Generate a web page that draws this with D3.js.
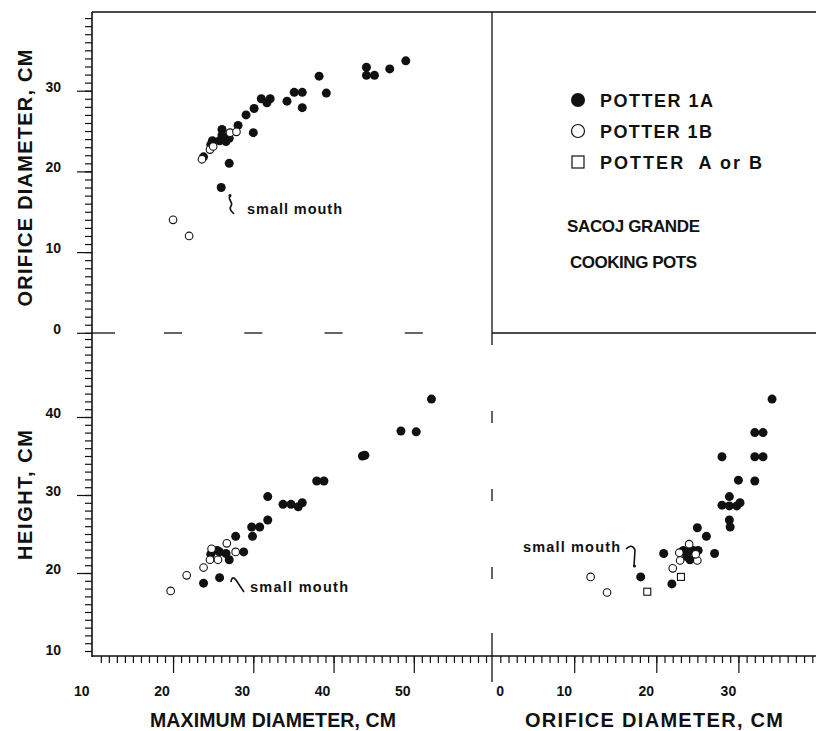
<!DOCTYPE html>
<html><head><meta charset="utf-8">
<script src="https://cdn.jsdelivr.net/npm/d3@7/dist/d3.min.js"></script>
<style>
html,body{margin:0;padding:0;background:#fff;}
svg{display:block;}
text{font-family:"Liberation Sans",Arial,Helvetica,sans-serif;font-weight:bold;fill:#111;}
</style></head>
<body>
<svg id="chart" width="816" height="731"></svg>
<script>
// ---- DATA ----
// Top-left: maximum diameter (x) vs orifice diameter (y)
const topPotter1A = [[49.0,33.7],[47.0,32.7],[44.1,32.9],[44.1,31.9],[45.1,31.9],[38.2,31.8],[39.1,29.7],[35.1,29.8],[36.1,29.8],[36.1,27.9],[34.2,28.7],[31.0,29.0],[32.1,29.0],[31.7,28.5],[30.1,27.8],[29.1,27.0],[28.1,25.7],[30.0,24.8],[26.1,25.2],[26.1,24.5],[24.9,23.8],[25.8,23.8],[26.6,23.7],[27.0,24.1],[24.7,23.3],[23.8,21.8],[27.0,21.0],[26.0,18.0]];
const topPotter1B = [[23.6,21.5],[24.6,22.7],[25.0,23.1],[27.1,24.8],[27.9,24.9],[20.0,14.0],[22.0,12.0]];
// Bottom-left: maximum diameter (x) vs height (y)
const leftPotter1A = [[52.2,42.3],[48.4,38.2],[50.3,38.1],[43.6,35.0],[43.9,35.1],[37.9,31.8],[38.8,31.8],[31.8,29.8],[33.7,28.8],[34.7,28.8],[35.6,28.5],[36.1,29.0],[31.8,26.8],[29.8,25.9],[30.8,25.9],[29.9,24.7],[27.8,24.7],[28.8,22.7],[24.7,22.4],[25.8,22.7],[26.6,22.5],[27.0,21.7],[25.5,22.9],[23.8,18.7],[25.8,19.4]];
const leftPotter1B = [[26.7,23.8],[24.8,23.1],[24.6,21.7],[25.6,21.7],[27.8,22.7],[23.8,20.7],[21.7,19.7],[19.7,17.7]];
// Bottom-right: orifice diameter (x) vs height (y)
const rightPotter1A = [[34.1,42.3],[32.0,38.0],[33.0,38.0],[32.0,34.9],[33.0,34.9],[28.0,34.9],[30.0,31.9],[32.0,31.8],[28.9,29.8],[28.0,28.7],[28.9,28.6],[29.8,28.6],[30.2,29.0],[28.9,26.8],[29.0,25.9],[25.0,25.8],[26.1,24.7],[27.1,22.5],[20.9,22.5],[18.1,19.5],[21.9,18.6],[23.9,22.7],[23.3,22.9],[24.5,22.9],[24.1,21.7],[25.1,22.9],[23.7,22.1]];
const rightPotter1B = [[24.0,23.7],[22.8,22.6],[22.9,21.6],[25.0,21.6],[24.8,22.4],[22.0,20.6],[12.0,19.5],[14.0,17.5]];
const rightPotterAorB = [[23.0,19.5],[18.9,17.6]];

const maxDiamLabels = [10,20,30,40,50];
const orificeXLabels = [0,10,20,30];
const orificeYLabels = [0,10,20,30];
const heightLabels = [10,20,30,40];
const legendLabels = ["POTTER 1A","POTTER 1B","POTTER\u00A0 A or B"];
const titleLines = ["SACOJ GRANDE","COOKING POTS"];

// ---- SCALES ----
const xMax = d3.scaleLinear().domain([10,50]).range([92.8,413.8]);
const xOrif = d3.scaleLinear().domain([0,30]).range([492.1,738.4]);
const yOrif = d3.scaleLinear().domain([0,30]).range([332.8,90.7]);
const yHeight = d3.scaleLinear().domain([10,40]).range([651,417]);

const svg = d3.select("#chart");
const ink = "#111";
const g = svg.append("g");

// frame lines
const line = (x1,y1,x2,y2,w) => g.append("line").attr("x1",x1).attr("y1",y1).attr("x2",x2).attr("y2",y2)
  .attr("stroke",ink).attr("stroke-width",w||1.4);
line(92,12,816,12,1.3);        // top border
line(92,12,92,657,1.6);        // left axis
line(92,656,816,656,1.6);      // bottom axis
line(492,12,492,345,1.3);      // vertical divider top
line(492,333,816,333,1.3);     // horizontal divider right
line(492,633,492,682,1.3);     // 0 divider at bottom
// dashed divider segments
line(92,333,115,333,1.3);
[20,30,40,50].forEach(v => line(xMax(v)-9,333,xMax(v)+9,333,1.3));
[20,30,40].forEach(v => line(492,yHeight(v)-6,492,yHeight(v)+6,1.3));

// ---- AXES ----
function styleAxis(sel){
  sel.select(".domain").remove();
  sel.selectAll(".tick line").attr("stroke",ink).attr("stroke-width",1.2);
  sel.selectAll(".tick text").remove();
}
g.append("g").attr("transform","translate(92,0)")
  .call(d3.axisLeft(yOrif).tickValues(d3.range(0,40)).tickSize(7).tickFormat(""))
  .call(styleAxis);
g.append("g").attr("transform","translate(92,0)")
  .call(d3.axisLeft(yOrif).tickValues(orificeYLabels).tickSize(15).tickFormat(""))
  .call(styleAxis);
g.append("g").attr("transform","translate(92,0)")
  .call(d3.axisLeft(yHeight).tickValues(d3.range(10,51)).tickSize(7).tickFormat(""))
  .call(styleAxis);
g.append("g").attr("transform","translate(92,0)")
  .call(d3.axisLeft(yHeight).tickValues([20,30,40]).tickSize(15).tickFormat(""))
  .call(styleAxis);
g.append("g").attr("transform","translate(0,656)")
  .call(d3.axisBottom(xMax).tickValues(d3.range(11,60)).tickSize(7).tickFormat(""))
  .call(styleAxis);
g.append("g").attr("transform","translate(0,656)")
  .call(d3.axisBottom(xMax).tickValues([20,30,40,50]).tickSize(17).tickFormat(""))
  .call(styleAxis);
g.append("g").attr("transform","translate(0,656)")
  .call(d3.axisBottom(xOrif).tickValues(d3.range(1,40)).tickSize(7).tickFormat(""))
  .call(styleAxis);
g.append("g").attr("transform","translate(0,656)")
  .call(d3.axisBottom(xOrif).tickValues([10,20,30]).tickSize(17).tickFormat(""))
  .call(styleAxis);

// tick labels
const tl = g.append("g").attr("font-size",14);
orificeYLabels.forEach(v => tl.append("text").attr("x",61).attr("y",yOrif(v)+1)
  .attr("text-anchor","end").text(v));
heightLabels.forEach(v => tl.append("text").attr("x",61).attr("y",yHeight(v)+(v===10?4:1))
  .attr("text-anchor","end").text(v));
maxDiamLabels.forEach(v => tl.append("text").attr("x",xMax(v)-11).attr("y",696)
  .attr("text-anchor","middle").text(v));
orificeXLabels.forEach(v => tl.append("text").attr("x",xOrif(v)+(v===0?8:-10)).attr("y",696)
  .attr("text-anchor","middle").text(v));

// axis titles
g.append("text").attr("transform","translate(32,178) rotate(-90)").attr("text-anchor","middle")
  .attr("font-size",20).attr("textLength",257).attr("lengthAdjust","spacing").text("ORIFICE DIAMETER, CM");
g.append("text").attr("transform","translate(32,495) rotate(-90)").attr("text-anchor","middle")
  .attr("font-size",20).attr("textLength",130).attr("lengthAdjust","spacing").text("HEIGHT, CM");
g.append("text").attr("x",150).attr("y",727)
  .attr("font-size",19.5).attr("textLength",246).attr("lengthAdjust","spacing").text("MAXIMUM DIAMETER, CM");
g.append("text").attr("x",525).attr("y",727)
  .attr("font-size",20).attr("textLength",258).attr("lengthAdjust","spacing").text("ORIFICE DIAMETER, CM");

// ---- POINTS ----
function drawSeries(data, xs, ys, kind){
  const sel = g.append("g");
  if(kind==="square"){
    sel.selectAll("rect").data(data).join("rect")
      .attr("x",d=>xs(d[0])-3.5).attr("y",d=>ys(d[1])-3.5).attr("width",7).attr("height",7)
      .attr("fill","#fff").attr("stroke",ink).attr("stroke-width",1.1);
  } else {
    sel.selectAll("circle").data(data).join("circle")
      .attr("cx",d=>xs(d[0])).attr("cy",d=>ys(d[1]))
      .attr("r",kind==="filled"?4.5:3.8)
      .attr("fill",kind==="filled"?ink:"#fff")
      .attr("stroke",ink).attr("stroke-width",kind==="filled"?0:1.1);
  }
}
drawSeries(topPotter1A, xMax, yOrif, "filled");
drawSeries(topPotter1B, xMax, yOrif, "open");
drawSeries(leftPotter1A, xMax, yHeight, "filled");
drawSeries(leftPotter1B, xMax, yHeight, "open");
drawSeries(rightPotter1A, xOrif, yHeight, "filled");
drawSeries(rightPotter1B, xOrif, yHeight, "open");
drawSeries(rightPotterAorB, xOrif, yHeight, "square");

// ---- ANNOTATIONS ----
const ann = g.append("g");
const pathStyle = p => ann.append("path").attr("d",p).attr("fill","none").attr("stroke",ink).attr("stroke-width",1.6);
ann.append("text").attr("x",247).attr("y",214).attr("font-size",14.5).attr("textLength",95).attr("lengthAdjust","spacing").text("small mouth");
pathStyle("M230,196 C227,200 234,202 231,206 C228,210 233,212 234,214");
ann.append("circle").attr("cx",230).attr("cy",195.5).attr("r",1.5).attr("fill",ink);
ann.append("text").attr("x",250).attr("y",592).attr("font-size",14.5).attr("textLength",98).attr("lengthAdjust","spacing").text("small mouth");
pathStyle("M231,582 Q232,575 236,580 L244,592");
ann.append("text").attr("x",523).attr("y",552).attr("font-size",14.5).attr("textLength",97).attr("lengthAdjust","spacing").text("small mouth");
pathStyle("M626,549 Q632,543 635,550 L634,566");
ann.append("circle").attr("cx",634.5).attr("cy",566).attr("r",1.5).attr("fill",ink);

// ---- LEGEND ----
const lg = g.append("g");
const legendY = [100,131,162];
lg.append("circle").attr("cx",578).attr("cy",legendY[0]).attr("r",7).attr("fill",ink);
lg.append("circle").attr("cx",578).attr("cy",legendY[1]).attr("r",6.5).attr("fill","#fff").attr("stroke",ink).attr("stroke-width",1.2);
lg.append("rect").attr("x",572).attr("y",legendY[2]-6).attr("width",12).attr("height",12).attr("fill","#fff").attr("stroke",ink).attr("stroke-width",1.2);
const legendLen = [113,112,162];
legendLabels.forEach((t,i) => lg.append("text").attr("x",600).attr("y",legendY[i]+6.5)
  .attr("font-size",18).attr("textLength",legendLen[i]).attr("lengthAdjust","spacing").text(t));
lg.append("text").attr("x",567).attr("y",232).attr("font-size",17).attr("textLength",133).attr("lengthAdjust","spacing").text(titleLines[0]);
lg.append("text").attr("x",570).attr("y",268).attr("font-size",17).attr("textLength",127).attr("lengthAdjust","spacing").text(titleLines[1]);
</script>
</body></html>
